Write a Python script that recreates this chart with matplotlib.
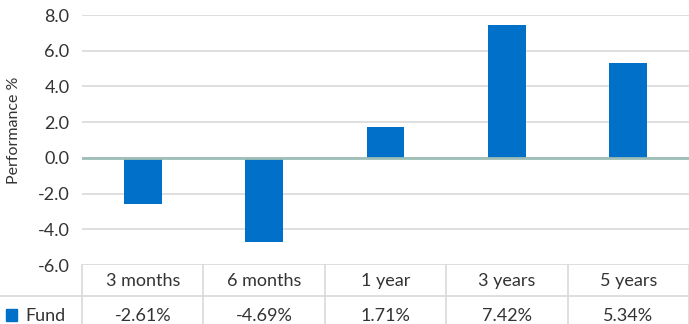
import matplotlib.pyplot as plt
import matplotlib.transforms as mtransforms

# chart data
periods = ["3 months", "6 months", "1 year", "3 years", "5 years"]
fund = [-2.61, -4.69, 1.71, 7.42, 5.34]
fund_labels = ["-2.61%", "-4.69%", "1.71%", "7.42%", "5.34%"]
yticks = [-6, -4, -2, 0, 2, 4, 6, 8]

bar_color = "#0070C8"
grid_color = "#D9D9D9"
zero_color = "#9DBDB6"
text_color = "#333333"

plt.rcParams["font.family"] = ["Lato", "DejaVu Sans"]

fig = plt.figure(figsize=(6.89, 3.24), dpi=100)
W, H = 689, 324
ax = fig.add_axes([82 / W, (H - 265) / H, 1 - 82 / W, 250 / H])

x = list(range(len(periods)))
ax.bar(x, fund, width=0.31, color=bar_color, zorder=3)

ax.set_xlim(-0.5, len(periods) - 0.5)
ax.set_ylim(-6, 8)
ax.set_yticks(yticks)
ax.set_yticklabels(["%.1f" % v for v in yticks], fontsize=13, color=text_color)
ax.set_xticks([])
for v in yticks:
    ax.axhline(v, color=grid_color, lw=1.2, zorder=1)
ax.axhline(0, color=zero_color, lw=2, zorder=4)
ax.tick_params(axis="y", length=0, pad=9)
for s in ax.spines.values():
    s.set_visible(False)

fig.text(14 / W, 1 - 130 / H, "Performance %", rotation=90, fontsize=11.5,
         color=text_color, ha="center", va="center")

# data table below the chart
trans = mtransforms.blended_transform_factory(ax.transData, ax.transAxes)
row1 = -31 / 250
row2 = -62 / 250
for i in range(len(periods) + 1):
    ax.plot([i - 0.5, i - 0.5], [0, row2], color=grid_color, lw=1.2,
            transform=trans, clip_on=False)
ax.plot([-0.5, len(periods) - 0.5], [row1, row1], color=grid_color, lw=1.2,
        transform=trans, clip_on=False)
fig.add_artist(plt.Line2D([0, 82 / W], [1 - 296 / H, 1 - 296 / H],
                          color=grid_color, lw=1.2))
for i, p in enumerate(periods):
    ax.text(i, -16 / 250, p, transform=trans, ha="center", va="center",
            fontsize=13, color=text_color, clip_on=False)
    ax.text(i, -51 / 250, fund_labels[i], transform=trans, ha="center",
            va="center", fontsize=13, color=text_color, clip_on=False)

fig.add_artist(plt.Rectangle((6 / W, 1 - 321 / H), 11 / W, 12 / H,
                             color=bar_color))
fig.text(25 / W, 1 - 316 / H, "Fund", fontsize=13, color=text_color,
         va="center", ha="left")

fig.savefig("out.png", dpi=100)
